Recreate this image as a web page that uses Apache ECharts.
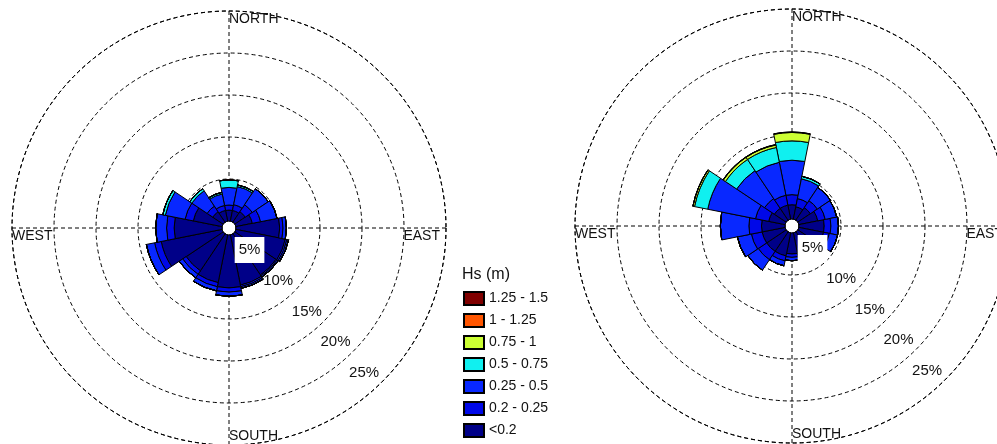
<!DOCTYPE html>
<html><head><meta charset="utf-8">
<script src="https://cdn.jsdelivr.net/npm/echarts@6/dist/echarts.min.js"></script>
<style>html,body{margin:0;padding:0;background:#fff}#c{width:997px;height:444px}</style>
</head><body><div id="c"></div><script>
// ---- data ----
const directions = ['N','NNE','NE','ENE','E','ESE','SE','SSE','S','SSW','SW','WSW','W','WNW','NW','NNW'];
const classNames = ['<0.2','0.2 - 0.25','0.25 - 0.5','0.5 - 0.75','0.75 - 1','1 - 1.25','1.25 - 1.5'];
const classColors = ['#000088','#0008E8','#0828FF','#10F0F0','#CCFF33','#FF5500','#800000'];
const ringTicks = [5, 10, 15, 20, 25];
const ringLabels = ['5%', '10%', '15%', '20%', '25%'];
const compassLabels = ['NORTH', 'EAST', 'SOUTH', 'WEST'];

// left rose, % of time per direction and Hs class
const leftLt020   = [1.3,1.3,1.5,2.0,5.2,6.0,5.9,6.1,6.3,5.8,5.3,7.4,5.7,3.5,1.5,1.3];
const left020_025 = [0.6,0.7,1.0,1.0,0.4,0.2,0.15,0.2,0.5,0.5,0.5,0.8,0.9,1.0,0.8,0.6];
const left025_050 = [2.1,2.2,2.3,2.0,0.4,0.2,0.15,0.2,0.5,0.5,0.5,1.0,1.3,2.4,2.2,1.4];
const left050_075 = [0.9,0.2,0,0,0,0,0,0,0,0,0,0,0,0.3,0.3,0.2];
const left075_100 = [0,0,0,0,0,0,0,0,0,0,0,0,0,0,0,0];
const left100_125 = [0,0,0,0,0,0,0,0,0,0,0,0,0,0,0,0];
const left125_150 = [0,0,0,0,0,0,0,0,0,0,0,0,0,0,0,0];

// right rose
const rightLt020   = [1.7,1.5,1.8,2.3,3.0,3.0,3.0,2.7,2.5,2.8,2.8,2.8,2.8,2.0,1.7,1.7];
const right020_025 = [1.2,1.0,1.0,0.9,0.8,0.7,0.5,0.3,0.4,0.6,1.2,1.3,1.5,1.6,1.4,1.2];
const right025_050 = [4.1,2.4,1.9,1.4,0.9,1.0,0.5,0.3,0.4,0.6,1.5,1.7,3.4,5.8,4.0,4.0];
const right050_075 = [2.3,0.3,0,0,0,0,0,0,0,0,0,0,0,1.6,1.6,1.8];
const right075_100 = [1.0,0,0,0,0,0,0,0,0,0,0,0,0,0.2,0.3,0.3];
const right100_125 = [0.05,0,0,0,0,0,0,0,0,0,0,0,0,0,0.05,0.05];
const right125_150 = [0,0,0,0,0,0,0,0,0,0,0,0,0,0,0,0];

const leftSeries = [leftLt020,left020_025,left025_050,left050_075,left075_100,left100_125,left125_150];
const rightSeries = [rightLt020,right020_025,right025_050,right050_075,right075_100,right100_125,right125_150];

// ---- layout ----
const panels = [
  {center:[229,228], data:leftSeries},
  {center:[792,226], data:rightSeries}
];
const R_IN = 7, R_OUT = 217;
const RMAX = 25;
const dash = {color:'#000', width:1, type:[4,3]};
const FONT = 'Liberation Sans, Arial, sans-serif';

const chart = echarts.init(document.getElementById('c'), null, {renderer:'canvas'});
const polar = [], angleAxis = [], radiusAxis = [], series = [], graphic = [];

panels.forEach((p, k) => {
  const gi = 2*k, bi = 2*k+1;
  // grid polar
  polar.push({center:p.center, radius:[R_IN, R_OUT]});
  angleAxis.push({polarIndex:gi, type:'value', min:0, max:360, interval:90, startAngle:90, clockwise:true,
    axisLine:{show:true, lineStyle:dash}, axisTick:{show:false}, axisLabel:{show:false},
    splitLine:{show:true, lineStyle:dash}, z:0});
  radiusAxis.push({polarIndex:gi, type:'value', min:0, max:RMAX, interval:5,
    axisLine:{show:false}, axisTick:{show:false}, axisLabel:{show:false},
    splitLine:{show:true, lineStyle:dash}, z:0});
  // bar polar
  polar.push({center:p.center, radius:[R_IN, R_OUT]});
  angleAxis.push({polarIndex:bi, type:'category', data:directions, startAngle:90 + 180/directions.length, clockwise:true,
    boundaryGap:true, axisLine:{show:false}, axisTick:{show:false}, axisLabel:{show:false}, splitLine:{show:false}});
  radiusAxis.push({polarIndex:bi, type:'value', min:0, max:RMAX,
    axisLine:{show:false}, axisTick:{show:false}, axisLabel:{show:false}, splitLine:{show:false}});

  p.data.forEach((arr, ci) => {
    series.push({
      type:'bar', coordinateSystem:'polar', polarIndex:bi, stack:'rose'+k,
      name:classNames[ci], data:arr, barCategoryGap:'0%',
      itemStyle:{color:classColors[ci], borderColor:'#000', borderWidth:1},
      emphasis:{disabled:true}, animation:false, z:2
    });
  });

  // ring percentage labels along the SE diagonal, just inside each ring
  series.push({
    type:'scatter', coordinateSystem:'polar', polarIndex:gi, symbolSize:0, z:10, animation:false,
    silent:true, itemStyle:{opacity:1, color:'#fff'},
    data: ringTicks.map((v, i) => ({
      value:[v - 2.25, 137],
      label: i === 0 ? {backgroundColor:'#ffffff', padding:[6,4,5,4]} : {}
    })),
    label:{show:true, position:'inside', color:'#111', fontFamily:FONT, fontSize:15,
      textBorderWidth:0, opacity:1,
      formatter: q => ringLabels[q.dataIndex]}
  });

  // compass labels
  const [cx, cy] = p.center;
  const st = {fill:'#111', font:'14px ' + FONT};
  graphic.push({type:'text', left:cx, top:cy - R_OUT + 1, style:Object.assign({text:compassLabels[0]}, st), z:20});
  graphic.push({type:'text', x:cx + R_OUT - 6, y:cy + 1, style:Object.assign({text:compassLabels[1], textAlign:'right', textVerticalAlign:'top'}, st), z:20});
  graphic.push({type:'text', x:cx, y:cy + R_OUT - 2, style:Object.assign({text:compassLabels[2], textAlign:'left', textVerticalAlign:'bottom'}, st), z:20});
  graphic.push({type:'text', x:cx - R_OUT, y:cy + 1, style:Object.assign({text:compassLabels[3], textAlign:'left', textVerticalAlign:'top'}, st), z:20});
});

chart.setOption({
  animation:false,
  backgroundColor:'#fff',
  title:{text:'Hs (m)', left:457, top:262, textStyle:{fontFamily:FONT, fontSize:16, fontWeight:'normal', color:'#111'}},
  legend:{
    orient:'vertical', left:458, top:286, bottom:0, itemWidth:20, itemHeight:13, itemGap:7,
    data: classNames.slice().reverse(), selectedMode:false,
    textStyle:{fontFamily:FONT, fontSize:14, color:'#111'}, icon:'rect'
  },
  polar, angleAxis, radiusAxis, series, graphic
});
</script></body></html>
